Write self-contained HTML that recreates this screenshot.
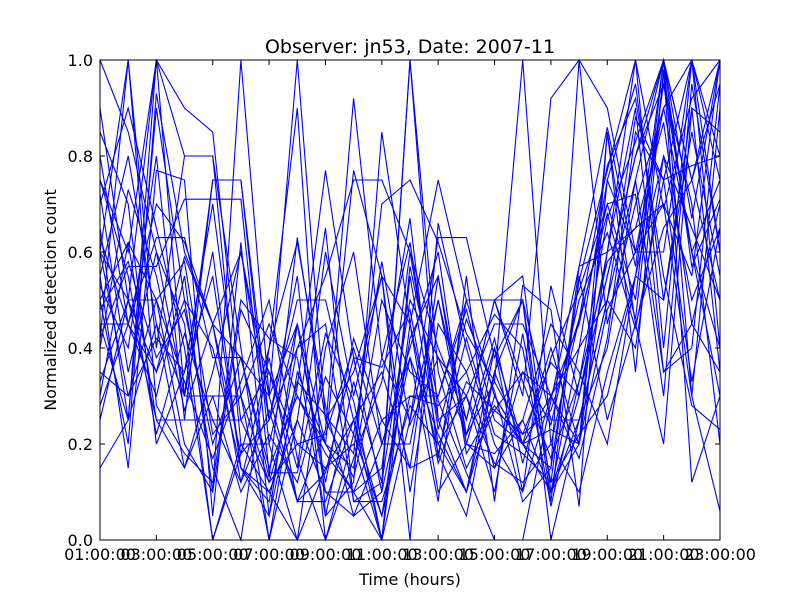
<!DOCTYPE html>
<html><head><meta charset="utf-8"><style>
body{margin:0;background:#fff;width:800px;height:600px;overflow:hidden}
svg text{font-family:"DejaVu Sans","Liberation Sans",sans-serif;fill:#000}
</style></head><body>
<svg id="chart" width="800" height="600" xmlns="http://www.w3.org/2000/svg">
<rect x="0" y="0" width="800" height="600" fill="#fff"/>
<g id="lines"></g>
<rect x="100" y="60" width="620" height="480" fill="none" stroke="#000" stroke-width="1"/>
<g id="axes"></g>
<text x="410" y="53" font-size="19" text-anchor="middle">Observer: jn53, Date: 2007-11</text>
<text x="410" y="585" font-size="16" text-anchor="middle">Time (hours)</text>
<text x="56" y="300" font-size="16" text-anchor="middle" transform="rotate(-90 56 300)">Normalized detection count</text>
</svg>
<script>
const hours = [1,2,3,4,5,6,7,8,9,10,11,12,13,14,15,16,17,18,19,20,21,22,23];
const xTickHours = [1,3,5,7,9,11,13,15,17,19,21,23];
const xTickLabels = ["01:00:00","03:00:00","05:00:00","07:00:00","09:00:00","11:00:00","13:00:00","15:00:00","17:00:00","19:00:00","21:00:00","23:00:00"];
const yTicks = [0,0.2,0.4,0.6,0.8,1.0];
const yTickLabels = ["0.0","0.2","0.4","0.6","0.8","1.0"];
const s1 = [1,0.85,0.6,0.45,0,0.2,0.1,0,0.15,0.2,0,0.45,0.75,0.5,0.3,0.2,0.1,0.3,0.55,0.8,1,0.75,1];
const s2 = [0.15,0.25,1,0.8,0.8,0.4,0,0.25,0.1,0.05,0.1,1,0.25,0.1,0.3,0.2,0.15,1,0.45,0.7,0.9,0.6,0.3];
const s3 = [0.75,0.6,1,0.9,0.85,0.3,0,0.35,0.2,0.77,0.55,0,0.66,0.4,0.2,0.1,0.3,0.45,0.7,0.5,1,0.3,0.06];
const s4 = [0.5,0.2,0.93,0.6,0.45,0.12,0.38,0.08,0.23,0.92,0.38,0.62,0.23,0.46,0.31,0.08,0.15,0.54,0.77,1,0.69,0.92,1];
const s5 = [0.42,0.57,0.57,0.71,0.71,0.71,0.14,0.14,0.43,0.29,0,0.57,0.29,0.14,0,0,0.29,0.57,0.86,0.57,1,0.57,0.71];
const s6 = [0.6,1,0.4,0.8,0.8,0.2,0.2,0,0.4,0.6,0.2,0.4,0.6,0.2,0.4,0.2,0.4,0.2,0.6,1,0.4,1,0.8];
const s7 = [0.33,0.5,0.5,0.33,0.17,0.33,0.5,0.17,0,0.17,0.33,0.67,0.17,0.5,0.5,0.33,0.17,0.33,0.67,0.83,1,0.67,1];
const s8 = [0.25,0.5,0.25,0.25,0.75,0.75,0.25,0.5,0.5,0.25,0,0.25,0.5,0.25,0.5,0.5,0,0.25,0.5,0.75,1,0.75,0.5];
const s9 = [0.63,0.45,0.63,0.63,0.38,0.38,0.13,0.63,0.25,0.13,0.38,0.25,0.63,0.63,0.38,0.5,0.25,0.25,0.5,0.88,0.75,1,0.75];
const s10 = [0.45,0.45,0.3,0.55,0.1,1,0.3,0.45,0.1,0.1,0,0.55,0.2,0.3,0.45,0.45,0.3,0.4,0.75,0.6,0.9,1,0.4];
const s11 = [0.85,0.7,0.2,0.35,0.55,0.15,0.08,0.4,0.55,0.75,0.75,0.6,0.4,0.25,0.5,0.55,0.1,0.2,0.75,0.95,0.5,0.85,0.55];
const s12 = [0.9,0.5,1,0.3,0.6,0.15,0.1,0.25,0.65,0.08,0.12,1,0.35,0.15,0.27,0.22,0.37,0.3,0.6,0.65,0.7,0.3,0.9];
const s13 = [0.55,0.8,0.45,0.3,0.75,0.75,0.2,0.45,0.2,0.1,0.25,0.15,0.55,0.22,0.33,1,0.2,0.1,0.35,0.55,0.95,0.6,0.75];
const s14 = [0.4,0.73,0.55,0.27,0.45,0.6,0.3,1,0.25,0.35,0.55,0.1,0.45,0.35,0.15,0.25,0.45,0.35,0.2,0.55,0.8,0.5,0.65];
const s15 = [0.7,0.9,0.65,0.4,0,0.18,0.25,0.4,0.45,0.08,0.08,0.28,0.2,0.1,0.4,0.1,0.53,0.3,0.55,0.8,0.95,0.7,0.2];
const s16 = [0.3,0.62,0.25,0.15,0.3,0.3,0.45,0.3,0.2,0.15,0.5,0.35,0.3,0.5,0.5,0.3,0.92,1,0.9,0.6,0.6,1,0.6];
const s17 = [0.53,0.4,0.8,0.25,0.25,0.25,0.35,0.15,0.6,0.3,0.55,0.45,0.1,0.2,0.15,0.35,0.3,0.2,0.85,0.45,0.65,0.75,0.95];
const s18 = [0.65,0.25,0.45,0.15,0.35,0.6,0.25,0.55,0,0.22,0.05,0.3,0.3,0.48,0.25,0.2,0.1,0.25,0.4,0.75,0.35,0.45,0.35];
const s19 = [0.28,0.45,0.7,0.62,0.45,0.18,0.4,0.62,0.28,0.05,0.2,0.2,0.5,0.2,0.18,0.25,0.1,0.4,0.5,0.4,0.8,0.65,0.5];
const s20 = [0.72,0.35,0.6,0.3,0.3,0.1,0.22,0.12,0.34,0.22,0.58,0.24,0.38,0.22,0.42,0.16,0.38,0.52,0.7,0.72,0.3,0.95,0.6];
const s21 = [0.48,0.58,0.38,0.48,0.2,0.38,0.3,0.08,0.14,0.38,0.36,0.48,0.16,0.33,0.27,0.35,0.24,0.5,0.64,0.44,0.75,0.78,0.8];
const s22 = [0.42,1,0.28,0.18,0.12,0.5,0.42,0.38,0.05,0.33,0.12,0.5,0.38,0.3,0.1,0.43,0.12,0.57,0.6,0.9,0.35,0.4,0.95];
const s23 = [0.6,0.3,0.5,0.58,0.22,0.3,0.12,0.33,0.26,0.18,0.7,0.75,0.62,0.43,0.33,0.22,0.27,0.46,0.78,0.92,0.55,0.28,0.23];
const s24 = [0.8,0.45,0.35,0.5,0.4,0.15,0.05,0.45,0.12,0.42,0.25,0.3,0.28,0.35,0.47,0.4,0.07,0.33,0.58,0.65,0.87,0.45,0.7];
const s25 = [0.5,0.62,0.5,0.2,0.1,0.48,0.35,0.2,0.15,0.25,0.05,0.42,0.55,0.18,0.28,0.2,0.3,0.17,0.42,0.85,0.75,0.33,0.65];
const s26 = [0.75,0.55,0.22,0.43,0.25,0.12,0.27,0.08,0.08,0.25,0.35,0.15,0.18,0.42,0.22,0.18,0.12,0.22,0.3,0.55,0.5,0.9,0.85];
const s27 = [0.35,0.3,0.42,0.35,0.7,0.25,0.12,0.2,0.22,0.4,0.2,0.38,0.22,0.1,0.35,0.2,0.23,0.2,0.48,0.6,0.7,0.55,1];
const s28 = [0.6,0.5,0.35,0.59,0.45,0.38,0.15,0.3,0.18,0.1,0.15,0.6,0.25,0.3,0.16,0.12,0.2,0.46,0.68,0.46,0.97,0.6,0.4];
const s29 = [0.45,0.25,0.9,0.5,0.15,0,0.4,0.9,0.05,0.12,0.85,0.45,0.18,0.05,0.35,0.5,0.08,0.55,0.25,0.45,0.2,0.9,0.35];
const s30 = [0.55,0.15,0.77,0.75,0.05,0.62,0.05,0.32,0.77,0.38,0.1,0.38,0.08,0.55,0.08,0.53,0.48,0.07,0.85,0.35,0.98,0.12,0.3];
const series = [s1,s2,s3,s4,s5,s6,s7,s8,s9,s10,s11,s12,s13,s14,s15,s16,s17,s18,s19,s20,s21,s22,s23,s24,s25,s26,s27,s28,s29,s30];

const X0=100,X1=720,Y0=540,Y1=60;
function xScale(h){return X0+(h-1)/(23-1)*(X1-X0);}
function yScale(v){return Y0-v*(Y0-Y1);}
const NS="http://www.w3.org/2000/svg";
const lg=document.getElementById('lines');
series.forEach((s,i)=>{
  const p=document.createElementNS(NS,'polyline');
  p.setAttribute('points',s.map((v,j)=>xScale(hours[j]).toFixed(1)+','+yScale(v).toFixed(1)).join(' '));
  p.setAttribute('fill','none');p.setAttribute('stroke','#0000ff');p.setAttribute('stroke-width','1.1');
  
  
  lg.appendChild(p);
});
const ax=document.getElementById('axes');
xTickHours.forEach((h,i)=>{
  const x=xScale(h);
  [[Y0,Y0-5],[Y1,Y1+5]].forEach(([a,b])=>{
    const l=document.createElementNS(NS,'line');
    l.setAttribute('x1',x);l.setAttribute('x2',x);l.setAttribute('y1',a);l.setAttribute('y2',b);l.setAttribute('stroke','#000');
    
    
    ax.appendChild(l);
  });
  const t=document.createElementNS(NS,'text');
  t.setAttribute('x',x);t.setAttribute('y',560);t.setAttribute('font-size','16');t.setAttribute('text-anchor','middle');
  t.textContent=xTickLabels[i];
  
  
  ax.appendChild(t);
});
yTicks.forEach((v,i)=>{
  const y=yScale(v);
  [[X0,X0+5],[X1,X1-5]].forEach(([a,b])=>{
    const l=document.createElementNS(NS,'line');
    l.setAttribute('x1',a);l.setAttribute('x2',b);l.setAttribute('y1',y);l.setAttribute('y2',y);l.setAttribute('stroke','#000');
    
    
    ax.appendChild(l);
  });
  const t=document.createElementNS(NS,'text');
  t.setAttribute('x',93);t.setAttribute('y',y+6);t.setAttribute('font-size','16');t.setAttribute('text-anchor','end');
  t.textContent=yTickLabels[i];
  
  
  ax.appendChild(t);
});
</script>
</body></html>
